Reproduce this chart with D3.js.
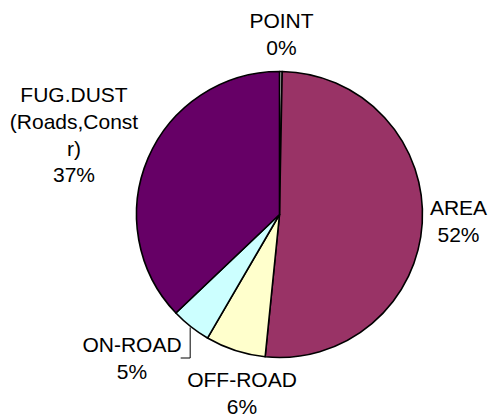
<!DOCTYPE html>
<html lang="en">
<head>
<meta charset="UTF-8">
<title>Emissions pie</title>
<script src="https://cdnjs.cloudflare.com/ajax/libs/d3/7.8.5/d3.min.js"></script>
<style>
  body { margin: 0; background: #fff; }
  .lbl { font-family: "Liberation Sans", Arial, sans-serif; font-size: 21px; fill: #000; }
</style>
</head>
<body>
<div id="chart"></div>
<script>
// data, clockwise from 12 o'clock
var categories = ["POINT", "AREA", "OFF-ROAD", "ON-ROAD", "FUG.DUST"];
var values = [0.3, 51.3, 6.8, 4.5, 37.1];
var labels = [["POINT", "0%"], ["AREA", "52%"], ["OFF-ROAD", "6%"], ["ON-ROAD", "5%"],
  ["FUG.DUST", "(Roads,Const", "r)", "37%"]];
var colors = ["#ffffff", "#993366", "#ffffcc", "#ccffff", "#660066"];

var width = 491, height = 419;
var cx = 279.5, cy = 214.5, r = 143;

var svg = d3.select("#chart").append("svg")
  .attr("width", width)
  .attr("height", height);

var g = svg.append("g").attr("transform", "translate(" + cx + "," + cy + ")");

var pie = d3.pie().sort(null).value(function (d) { return d; });
var arcs = pie(values);
var arc = d3.arc().innerRadius(0).outerRadius(r);

g.selectAll("path.slice")
  .data(arcs)
  .enter().append("path")
  .attr("class", "slice")
  .attr("d", arc)
  .style("fill", function (d, i) { return colors[i]; })
  .style("stroke", "#000")
  .style("stroke-width", 1.6)
  .style("stroke-linejoin", "round");

// label anchor: centre x and first baseline, relative to pie centre (by eye)
var labelPos = {
  "POINT": [2, -186.5],
  "AREA": [179, 0.5],
  "OFF-ROAD": [-37.5, 172.5],
  "ON-ROAD": [-147.5, 137.5],
  "FUG.DUST": [-205.5, -112.5]
};
var lineH = 26.8;

arcs.forEach(function (a, i) {
  var lines = labels[i];
  var p = labelPos[categories[i]];
  var t = g.append("text")
    .attr("class", "lbl")
    .attr("text-anchor", "middle")
    .attr("x", p[0])
    .attr("y", p[1]);
  lines.forEach(function (s, k) {
    t.append("tspan").attr("x", p[0]).attr("dy", k === 0 ? 0 : lineH).text(s);
  });
});

// leader line for ON-ROAD
var on = arcs[3];
var mid = (on.startAngle + on.endAngle) / 2;
var ex = Math.sin(mid) * (r + 1), ey = -Math.cos(mid) * (r + 1);
g.append("path")
  .attr("d", "M" + ex + "," + ey + "V" + (143.5) + "H" + (ex - 9.5))
  .style("fill", "none")
  .style("stroke", "#000")
  .style("stroke-width", 1);
</script>
</body>
</html>
